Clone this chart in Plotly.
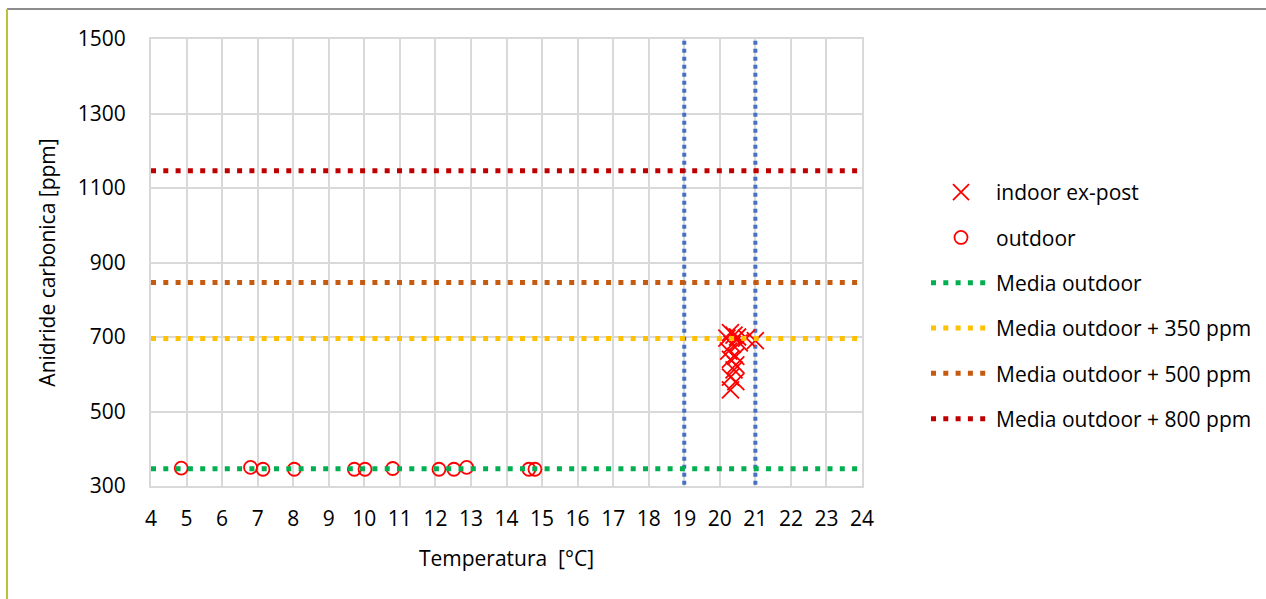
import numpy as np
import plotly.graph_objects as go

# Indoor measurements after the intervention (temperature °C, CO2 ppm)
indoor_temp = [20.3, 20.4, 20.5, 20.2, 20.75, 21.0, 20.35, 20.55, 20.25, 20.45,
               20.3, 20.45, 20.4, 20.3, 20.45, 20.3]
indoor_co2 = [712, 705, 700, 697, 697, 690, 680, 684, 662, 648,
              640, 625, 612, 592, 580, 558]

# Outdoor measurements
outdoor_temp = [4.85, 6.8, 7.15, 8.03, 9.72, 10.02, 10.8, 12.1, 12.52, 12.88, 14.63, 14.8]
outdoor_co2 = [348, 350, 345, 345, 345, 345, 347, 345, 345, 350, 345, 345]

# Reference levels above the outdoor mean
offsets = [0, 350, 500, 800]
offset_names = ["Media outdoor", "Media outdoor + 350 ppm",
                "Media outdoor + 500 ppm", "Media outdoor + 800 ppm"]
offset_colors = ["#00B050", "#FFC000", "#C55A11", "#C00000"]

# Comfort temperature band limits
temp_limits = [19, 21]
band_co2 = [282, 1500]

x_range = [4, 24]
y_range = [300, 1500]
x_ticks = list(range(4, 25))
y_ticks = [300, 500, 700, 900, 1100, 1300, 1500]

mean_out = float(np.mean(outdoor_co2))

FONT = "Open Sans"
FS = 21
fig = go.Figure()

for t in temp_limits:
    fig.add_trace(go.Scatter(
        x=[t, t], y=band_co2, mode="lines", showlegend=False, cliponaxis=False,
        line=dict(color="#4472C4", width=4, dash="4px,4px"), hoverinfo="skip"))

fig.add_trace(go.Scatter(
    x=indoor_temp, y=indoor_co2, mode="markers", name="indoor ex-post",
    legendgroup="a",
    marker=dict(symbol="x-thin-open", size=17, color="#FF0000",
                line=dict(color="#FF0000", width=1.8))))

fig.add_trace(go.Scatter(
    x=outdoor_temp, y=outdoor_co2, mode="markers", name="outdoor",
    legendgroup="b",
    marker=dict(symbol="circle-open", size=13, color="#FF0000",
                line=dict(color="#FF0000", width=1.8))))

for i, (off, name, col) in enumerate(zip(offsets, offset_names, offset_colors)):
    lvl = mean_out + off
    fig.add_trace(go.Scatter(
        x=x_range, y=[lvl, lvl], mode="lines", name=name, legendgroup=f"c{i}",
        line=dict(color=col, width=5, dash="5px,7.3px")))

axis_common = dict(
    showgrid=True, gridcolor="#D9D9D9", gridwidth=2,
    showline=True, linecolor="#D9D9D9", linewidth=2, mirror=True,
    zeroline=False, ticks="",
    tickfont=dict(family=FONT, size=FS, color="#000000"),
)

fig.update_xaxes(range=x_range, tickvals=x_ticks, ticklabelstandoff=13,
                 title=dict(text="Temperatura  [°C]", standoff=20,
                            font=dict(family=FONT, size=FS, color="#000000")),
                 **axis_common)
fig.update_yaxes(range=y_range, tickvals=y_ticks, ticklabelstandoff=19,
                 title=dict(text="Anidride carbonica [ppm]", standoff=16,
                            font=dict(family=FONT, size=FS, color="#000000")),
                 **axis_common)

W, H = 1266, 599
L, R, T, B = 151, 404, 39, 113
pw, ph = W - L - R, H - T - B

def px_x(p):
    return (p - L) / pw

def px_y(p):
    return (H - B - p) / ph

# Outer chart frame
fig.add_shape(type="line", xref="paper", yref="paper",
              x0=px_x(7), x1=px_x(W + 5), y0=px_y(9), y1=px_y(9),
              line=dict(color="#8C8C8C", width=2))
fig.add_shape(type="line", xref="paper", yref="paper",
              x0=px_x(7), x1=px_x(7), y0=px_y(9), y1=px_y(H + 5),
              line=dict(color="#BFBF3A", width=2))

fig.update_layout(
    width=W, height=H,
    margin=dict(l=L, r=R, t=T, b=B, autoexpand=False),
    paper_bgcolor="white", plot_bgcolor="white",
    font=dict(family=FONT, size=FS, color="#000000"),
    legend=dict(x=px_x(926), xanchor="left", y=px_y(172), yanchor="top",
                font=dict(family=FONT, size=FS, color="#000000"),
                tracegroupgap=15, itemwidth=60, bgcolor="rgba(0,0,0,0)"),
    showlegend=True,
)

fig.write_html("out.html")
